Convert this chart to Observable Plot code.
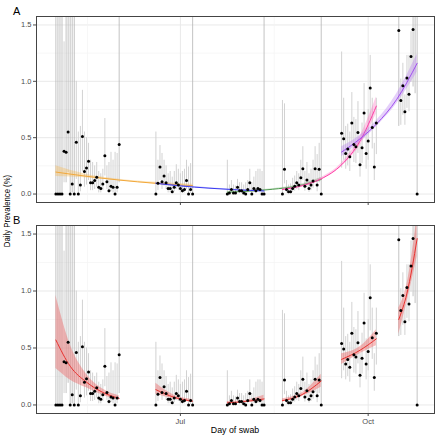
<!DOCTYPE html>
<html>
<head>
<meta charset="utf-8">
<script src="https://cdn.jsdelivr.net/npm/d3@7"></script>
<script src="https://cdn.jsdelivr.net/npm/@observablehq/plot@0.6"></script>
<style>
  body { margin: 0; background: #fff; }
  #chart { position: relative; width: 437px; height: 440px; background: #fff; font-family: "Liberation Sans", Arial, sans-serif; }
  #chart svg { position: absolute; left: 0; overflow: visible; opacity: 0.999; }
  .lbl { position: absolute; color: #000; white-space: nowrap; line-height: 1; }
</style>
</head>
<body>
<div id="chart"></div>
<script>
// ---------- data: daily prevalence (%) with 95% CI, by round ----------
const roundStarts = ["2020-05-01", "2020-06-19", "2020-07-24", "2020-08-20", "2020-09-18", "2020-10-16"];

const r1Val = [0,0,0,0,0.38,0.37,0.55,0,0.09,0,0.46,0,0.08,0.51,0.20,0.23,0.29,0.10,0.10,0.12,0.15,0.06,0.05,0.09,0.34,0.11,0.03,0.07,0.06,0,0.06,0.44];
const r1Lo  = [0,0,0,0,0.10,0.10,0.19,0,0.01,0,0.13,0,0.02,0.20,0.06,0.08,0.12,0.03,0.03,0.04,0.06,0.01,0.01,0.03,0.16,0.04,0.005,0.02,0.01,0,0.01,0.10];
const r1Hi  = [3,3,3,3,1.35,3,3,3,3,3,1.0,0.55,0.6,0.92,0.55,0.5,0.45,0.3,0.28,0.25,0.28,0.2,0.18,0.22,0.67,0.25,0.28,0.37,0.3,0.37,0.36,3];

const r2Val = [0,0.095,0.24,0.11,0.16,0.10,0.05,0.05,0.02,0.06,0.10,0.08,0.05,0.03,0.04,0.12,0,0.04,0];
const r2Lo  = [0,0.03,0.12,0.04,0.07,0.04,0.01,0.01,0.003,0.02,0.04,0.03,0.01,0.005,0.01,0.04,0,0.005,0];
const r2Hi  = [0.55,0.3,0.43,0.36,0.3,0.25,0.18,0.2,0.15,0.2,0.26,0.22,0.18,0.2,0.22,0.3,0.24,0.27,3];

const r3Val = [0,0.01,0.04,0.01,0.01,0.06,0.03,0.03,0.01,0,0.04,0.10,0,0.05,0.03,0.05,0.04,0,0];
const r3Lo  = [0,0,0.01,0,0,0.02,0.005,0.005,0,0,0.01,0.04,0,0.015,0.005,0.015,0.01,0,0];
const r3Hi  = [0.30,0.08,0.12,0.08,0.07,0.13,0.1,0.1,0.08,0.1,0.12,0.22,0.1,0.15,0.2,0.22,0.22,0.2,3];

const r4Val = [0,0.22,0.04,0.02,0.02,0.05,0.07,0.10,0.08,0.145,0.225,0.07,0.125,0.05,0.08,0.115,0.225,0.08,0.22,0];
const r4Lo  = [0,0.09,0.01,0.003,0.003,0.015,0.025,0.04,0.03,0.07,0.12,0.025,0.06,0.015,0.03,0.05,0.11,0.02,0.10,0];
const r4Hi  = [0.83,0.80,0.12,0.08,0.09,0.14,0.16,0.2,0.18,0.3,0.42,0.2,0.28,0.18,0.22,0.3,0.42,0.35,0.45,3];

const r5Val = [0.54,0.49,0.36,0.40,0.33,0.63,0.44,0.42,0.545,0.26,0.41,0.72,0.36,0.47,0.94,0.59,0.24,0.63];
const r5Lo  = [0.23,0.30,0.22,0.25,0.20,0.45,0.28,0.27,0.36,0.15,0.27,0.50,0.22,0.30,0.65,0.40,0.12,0.35];
const r5Hi  = [1.26,0.85,0.60,0.62,0.55,0.90,0.68,0.66,0.82,0.45,0.63,0.98,0.58,0.75,1.23,0.85,0.45,0.85];

const r6Val = [1.45,0.83,0.96,0.73,1.03,0.885,1.22,1.46,1.75,0];
const r6Lo  = [0.60,0.61,0.70,0.61,0.76,0.73,0.99,0.95,0.89,0];
const r6Hi  = [3,1.02,1.16,0.88,1.23,1.23,1.44,2.2,3,3];

// ---------- fitted curves ----------
// Panel A: fits across consecutive pairs of rounds
const fitOrangeDates = ["2020-05-01","2020-05-15","2020-06-01","2020-06-19","2020-07-07"];
const fitOrangeMid = [0.195,0.160,0.124,0.095,0.074];
const fitOrangeLo  = [0.155,0.145,0.118,0.087,0.064];
const fitOrangeHi  = [0.250,0.178,0.131,0.104,0.086];

const fitBlueDates = ["2020-06-19","2020-07-01","2020-07-15","2020-07-29","2020-08-11"];
const fitBlueMid = [0.095,0.072,0.052,0.037,0.027];
const fitBlueLo  = [0.088,0.067,0.048,0.033,0.022];
const fitBlueHi  = [0.103,0.077,0.056,0.041,0.033];

const fitGreenDates = ["2020-07-24","2020-08-04","2020-08-15","2020-08-27","2020-09-08"];
const fitGreenMid = [0.016,0.026,0.042,0.070,0.130];
const fitGreenLo  = [0.012,0.022,0.038,0.063,0.115];
const fitGreenHi  = [0.021,0.031,0.047,0.078,0.147];

const fitPinkDates = ["2020-08-20","2020-08-30","2020-09-08","2020-09-18","2020-09-27","2020-10-05"];
const fitPinkMid = [0.040,0.075,0.135,0.260,0.470,0.780];
const fitPinkLo  = [0.034,0.068,0.125,0.245,0.430,0.710];
const fitPinkHi  = [0.047,0.083,0.146,0.275,0.510,0.860];

const fitPurpleDates = ["2020-09-18","2020-09-27","2020-10-05","2020-10-15","2020-10-25"];
const fitPurpleMid = [0.373,0.490,0.620,0.840,1.160];
const fitPurpleLo  = [0.330,0.460,0.595,0.800,1.080];
const fitPurpleHi  = [0.420,0.520,0.650,0.890,1.240];

// Panel B: one fit per round
const fitR1Dates = ["2020-05-01","2020-05-08","2020-05-16","2020-05-24","2020-06-01"];
const fitR1Mid = [0.57,0.34,0.20,0.11,0.058];
const fitR1Lo  = [0.32,0.22,0.15,0.085,0.042];
const fitR1Hi  = [0.96,0.53,0.27,0.14,0.08];

const fitR2Dates = ["2020-06-19","2020-06-28","2020-07-07"];
const fitR2Mid = [0.134,0.067,0.033];
const fitR2Lo  = [0.095,0.053,0.022];
const fitR2Hi  = [0.19,0.085,0.048];

const fitR3Dates = ["2020-07-24","2020-08-02","2020-08-11"];
const fitR3Mid = [0.018,0.030,0.053];
const fitR3Lo  = [0.010,0.023,0.033];
const fitR3Hi  = [0.030,0.040,0.085];

const fitR4Dates = ["2020-08-20","2020-08-29","2020-09-08"];
const fitR4Mid = [0.038,0.085,0.21];
const fitR4Lo  = [0.026,0.070,0.155];
const fitR4Hi  = [0.055,0.100,0.27];

const fitR5Dates = ["2020-09-18","2020-09-27","2020-10-05"];
const fitR5Mid = [0.40,0.48,0.58];
const fitR5Lo  = [0.355,0.45,0.52];
const fitR5Hi  = [0.45,0.51,0.66];

const fitR6Dates = ["2020-10-16","2020-10-20","2020-10-25"];
const fitR6Mid = [0.75,0.98,1.46];
const fitR6Lo  = [0.62,0.90,1.30];
const fitR6Hi  = [0.85,1.06,1.65];

// ---------- axis ticks ----------
const xTickDates = ["2020-07-01","2020-10-01"];
const xMinorDates = ["2020-05-16T12:00Z","2020-08-16"];
const yTicks = [0, 0.5, 1.0, 1.5];
const yMinor = [0.25, 0.75, 1.25];

// ---------- build tables ----------
const rounds = [
  [r1Val, r1Lo, r1Hi], [r2Val, r2Lo, r2Hi], [r3Val, r3Lo, r3Hi],
  [r4Val, r4Lo, r4Hi], [r5Val, r5Lo, r5Hi], [r6Val, r6Lo, r6Hi]
];
const points = [];
rounds.forEach(([v, lo, hi], k) => {
  const s = new Date(roundStarts[k]);
  v.forEach((val, i) => points.push({date: d3.utcDay.offset(s, i), value: val, lo: lo[i], hi: hi[i]}));
});
function fitRows(dates, mid, lo, hi) {
  return dates.map((d, i) => ({date: new Date(d), mid: mid[i], lo: lo[i], hi: hi[i]}));
}
const fitsA = [
  {rows: fitRows(fitOrangeDates, fitOrangeMid, fitOrangeLo, fitOrangeHi), line: "#f2a83a", band: "#f6b548"},
  {rows: fitRows(fitGreenDates, fitGreenMid, fitGreenLo, fitGreenHi), line: "#4f9a4f", band: "#6cb06c"},
  {rows: fitRows(fitBlueDates, fitBlueMid, fitBlueLo, fitBlueHi), line: "#3a3af2", band: "#6060f0"},
  {rows: fitRows(fitPinkDates, fitPinkMid, fitPinkLo, fitPinkHi), line: "#ff3fa6", band: "#ff6ec0"},
  {rows: fitRows(fitPurpleDates, fitPurpleMid, fitPurpleLo, fitPurpleHi), line: "#a04ef0", band: "#b478f2"}
];
const red = {line: "#e8322f", band: "#ee5a5a"};
const fitsB = [
  fitRows(fitR1Dates, fitR1Mid, fitR1Lo, fitR1Hi),
  fitRows(fitR2Dates, fitR2Mid, fitR2Lo, fitR2Hi),
  fitRows(fitR3Dates, fitR3Mid, fitR3Lo, fitR3Hi),
  fitRows(fitR4Dates, fitR4Mid, fitR4Lo, fitR4Hi),
  fitRows(fitR5Dates, fitR5Mid, fitR5Lo, fitR5Hi),
  fitRows(fitR6Dates, fitR6Mid, fitR6Lo, fitR6Hi)
].map(rows => ({rows, line: red.line, band: red.band}));

// ---------- layout ----------
const jul1 = Date.UTC(2020, 6, 1);
const xDomain = [new Date(jul1 - 70.5 * 864e5), new Date(jul1 + 124.5 * 864e5)];
const yDomain = [-0.075, 1.575];
const yTop = yDomain[1];

function panel({height, marginTop, marginBottom, labels, fits, bandOpacity}) {
  const marks = [
    Plot.ruleY(yMinor, {stroke: "#f3f3f3", strokeWidth: 0.7}),
    Plot.ruleY(yTicks, {stroke: "#e9e9e9", strokeWidth: 1}),
    Plot.ruleX(xMinorDates.map(d => new Date(d)), {stroke: "#f3f3f3", strokeWidth: 0.7}),
    Plot.ruleX(xTickDates.map(d => new Date(d)), {stroke: "#e9e9e9", strokeWidth: 1}),
    Plot.ruleX(points.filter(d => d.hi <= yTop), {x: "date", y1: "lo", y2: "hi", stroke: "#d2d2d2", strokeWidth: 1, clip: true}),
    Plot.ruleX(points.filter(d => d.hi > yTop), {x: "date", y1: "lo", y2: "hi", stroke: "#b4b4b4", strokeWidth: 0.8, clip: true})
  ];
  for (const f of fits) {
    marks.push(Plot.areaY(f.rows, {x: "date", y1: "lo", y2: "hi", fill: f.band, fillOpacity: bandOpacity, curve: "monotone-x", clip: true}));
    marks.push(Plot.line(f.rows, {x: "date", y: "mid", stroke: f.line, strokeWidth: 1, curve: "monotone-x", clip: true}));
  }
  marks.push(Plot.dot(points, {x: "date", y: "value", r: 1.5, fill: "#000", stroke: "none", clip: true}));
  marks.push(Plot.frame({stroke: "#444", strokeWidth: 1}));
  return Plot.plot({
    width: 437, height,
    marginLeft: 36, marginRight: 3, marginTop, marginBottom,
    style: {fontSize: "7.5px", fontFamily: "'Liberation Sans', Arial, sans-serif", color: "#4d4d4d", background: "transparent"},
    x: {type: "utc", domain: xDomain, ticks: xTickDates.map(d => new Date(d)),
        tickFormat: labels ? d3.utcFormat("%b") : () => "", tickSize: 3, tickPadding: 2, label: null},
    y: {domain: yDomain, ticks: yTicks, tickFormat: d3.format(".1f"), tickSize: 3, tickPadding: 2, label: null},
    marks
  });
}

const chart = document.getElementById("chart");
const svgA = panel({height: 210, marginTop: 16, marginBottom: 8, labels: false, fits: fitsA, bandOpacity: 0.35});
svgA.style.top = "0px";
const svgB = panel({height: 230, marginTop: 15, marginBottom: 27, labels: true, fits: fitsB, bandOpacity: 0.4});
svgB.style.top = "210px";
chart.appendChild(svgA);
chart.appendChild(svgB);

function addLabel(text, css) {
  const el = document.createElement("div");
  el.className = "lbl";
  el.textContent = text;
  Object.assign(el.style, css);
  chart.appendChild(el);
}
addLabel("A", {left: "13px", top: "6px", fontSize: "11px"});
addLabel("B", {left: "13px", top: "215px", fontSize: "11px"});
addLabel("Day of swab", {left: "235px", top: "426px", fontSize: "8.8px", transform: "translateX(-50%)"});
addLabel("Daily Prevalence (%)", {left: "6.5px", top: "211px", fontSize: "8.8px", transform: "translate(-50%, -50%) rotate(-90deg) scaleX(0.88)"});
</script>
</body>
</html>
